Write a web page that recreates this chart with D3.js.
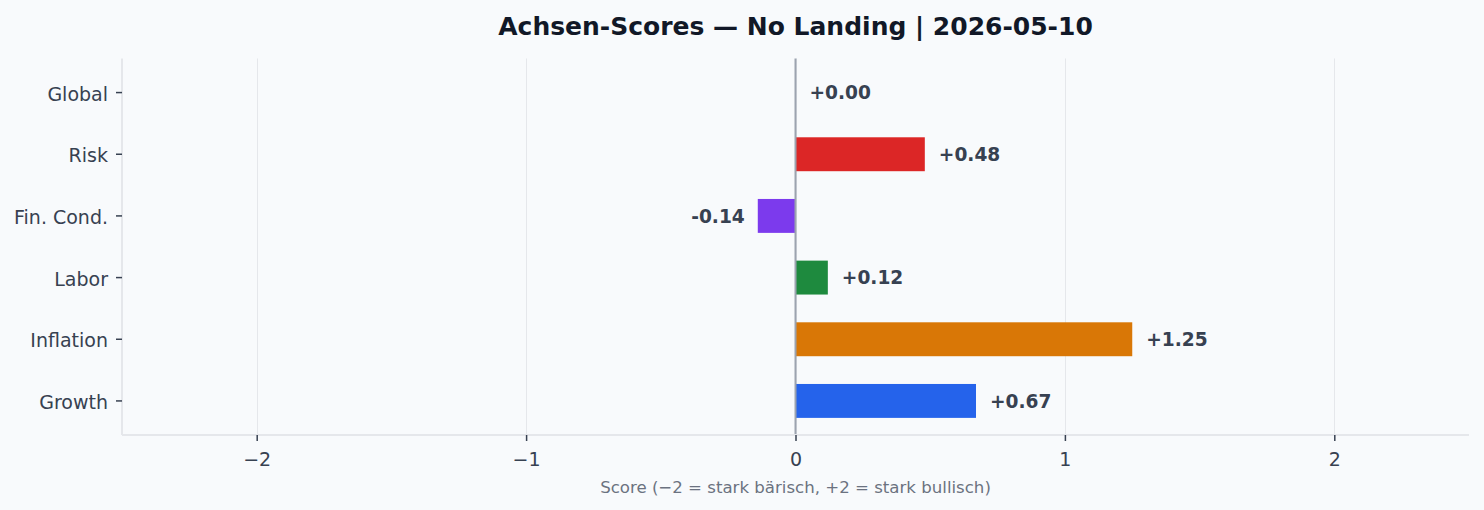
<!DOCTYPE html>
<html>
<head>
<meta charset="utf-8">
<script src="https://cdn.jsdelivr.net/npm/d3@7"></script>
<style>
  html, body { margin: 0; padding: 0; background: #f8fafc; }
  svg { display: block; font-family: "DejaVu Sans", sans-serif; }
</style>
</head>
<body>
<svg id="chart" width="1484" height="510"></svg>
<script>
// Data (bottom to top)
const categories = ["Growth", "Inflation", "Labor", "Fin. Cond.", "Risk", "Global"];
const scores = [0.67, 1.25, 0.12, -0.14, 0.48, 0.00];
const barColors = ["#2563eb", "#d97706", "#1e8a3e", "#7c3aed", "#dc2626", "#6b7280"];
const xTicks = [-2, -1, 0, 1, 2];
const titleText = "Achsen-Scores — No Landing | 2026-05-10";
const xLabel = "Score (−2 = stark bärisch, +2 = stark bullisch)";

const data = categories.map((c, i) => ({cat: c, val: scores[i], color: barColors[i]}));

const W = 1484, H = 510;
const margin = {top: 58.5, right: 15, bottom: 75, left: 122};
const plotW = W - margin.left - margin.right;
const plotH = H - margin.top - margin.bottom;

const svg = d3.select("#chart");
const g = svg.append("g").attr("transform", `translate(${margin.left},${margin.top})`);

const x = d3.scaleLinear().domain([-2.5, 2.5]).range([0, plotW]);
const y = d3.scaleBand()
    .domain(categories.slice().reverse())
    .range([0, plotH])
    .paddingInner(0.45)
    .paddingOuter(0.2775);

// grid
g.selectAll("line.grid")
    .data(xTicks)
    .join("line")
    .attr("class", "grid")
    .attr("x1", d => Math.round(x(d)) + 0.5)
    .attr("x2", d => Math.round(x(d)) + 0.5)
    .attr("y1", 0)
    .attr("y2", plotH)
    .attr("stroke", "#e5e7eb")
    .attr("stroke-width", 1);

// bars
g.selectAll("rect.bar")
    .data(data)
    .join("rect")
    .attr("class", "bar")
    .attr("x", d => x(Math.min(0, d.val)))
    .attr("y", d => y(d.cat))
    .attr("width", d => Math.abs(x(d.val) - x(0)))
    .attr("height", y.bandwidth())
    .attr("fill", d => d.color);

// zero line
g.append("line")
    .attr("x1", x(0)).attr("x2", x(0))
    .attr("y1", 0).attr("y2", plotH)
    .attr("stroke", "#9ca3af")
    .attr("stroke-width", 2);

// value labels
const fmt = v => (v >= 0 ? "+" : "-") + Math.abs(v).toFixed(2);
g.selectAll("text.val")
    .data(data)
    .join("text")
    .attr("class", "val")
    .attr("x", d => d.val >= 0 ? x(d.val) + 14 : x(d.val) - 13)
    .attr("y", d => y(d.cat) + y.bandwidth() / 2)
    .attr("dy", "0.36em")
    .attr("text-anchor", d => d.val >= 0 ? "start" : "end")
    .attr("font-size", 18.6)
    .attr("font-weight", "bold")
    .attr("fill", "#374151")
    .text(d => fmt(d.val));

// axes
const xAxis = g.append("g")
    .attr("transform", `translate(0,${plotH})`)
    .call(d3.axisBottom(x).tickValues(xTicks).tickSize(6).tickPadding(12)
        .tickFormat(d => d < 0 ? "−" + Math.abs(d) : String(d)));
xAxis.select(".domain").attr("stroke", "#e5e7eb").attr("stroke-width", 2)
    .attr("d", `M0,0H${plotW}`);
xAxis.selectAll(".tick line").attr("stroke", "#374151").attr("stroke-width", 1.5);
xAxis.selectAll(".tick text").attr("fill", "#374151").attr("font-size", 19)
    .attr("font-family", "DejaVu Sans, sans-serif");

const yAxis = g.append("g")
    .call(d3.axisLeft(y).tickSize(6).tickPadding(8));
yAxis.select(".domain").attr("stroke", "#e5e7eb").attr("stroke-width", 2)
    .attr("d", `M0,0V${plotH}`);
yAxis.selectAll(".tick line").attr("stroke", "#374151").attr("stroke-width", 1.5);
yAxis.selectAll(".tick text").attr("fill", "#374151").attr("font-size", 19)
    .attr("dy", "0.42em")
    .attr("font-family", "DejaVu Sans, sans-serif");

// title
svg.append("text")
    .attr("x", margin.left + plotW / 2)
    .attr("y", 35)
    .attr("text-anchor", "middle")
    .attr("font-size", 25)
    .attr("font-weight", "bold")
    .attr("fill", "#111827")
    .text(titleText);

// x label
svg.append("text")
    .attr("x", margin.left + plotW / 2)
    .attr("y", 493)
    .attr("text-anchor", "middle")
    .attr("font-size", 16.6)
    .attr("fill", "#6b7280")
    .text(xLabel);
</script>
</body>
</html>
